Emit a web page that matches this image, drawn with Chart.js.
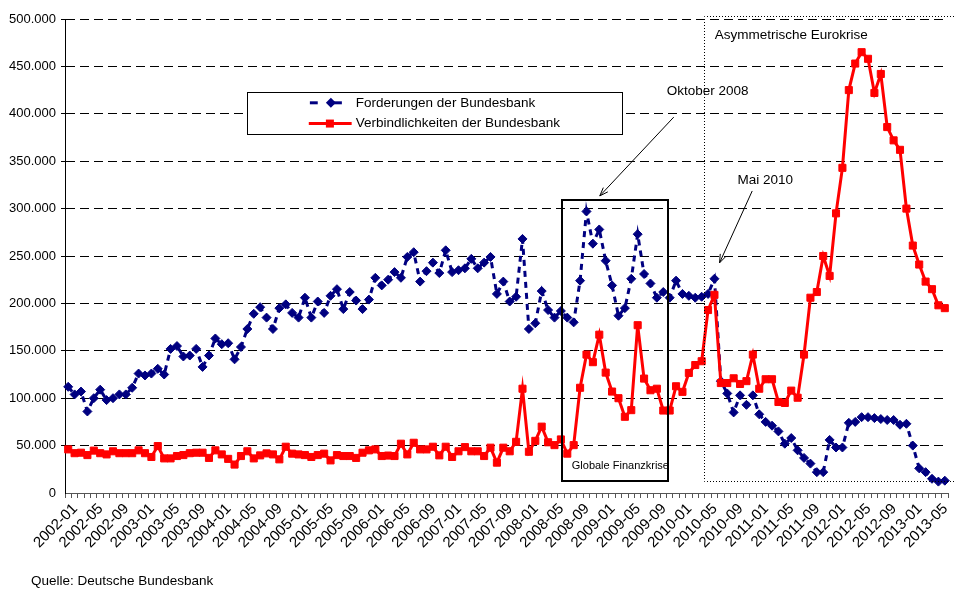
<!DOCTYPE html>
<html><head><meta charset="utf-8">
<script src="https://cdn.jsdelivr.net/npm/chart.js@4.4.0/dist/chart.umd.min.js"></script>
<style>html,body{margin:0;padding:0;background:#fff}canvas{display:block}</style>
</head><body>
<canvas id="c" width="954" height="589"></canvas>
<script>
// Monthly categories 2002-01 .. 2013-06
const START_YEAR = 2002, MONTH_COUNT = 138;
const categories = [];
for (let k = 0; k < MONTH_COUNT; k++) {
  const yr = START_YEAR + Math.floor(k / 12), mo = (k % 12) + 1;
  categories.push(yr + '-' + String(mo).padStart(2, '0'));
}
const tickLabels = ['2002-01','2002-05','2002-09','2003-01','2003-05','2003-09','2004-01','2004-05','2004-09',
  '2005-01','2005-05','2005-09','2006-01','2006-05','2006-09','2007-01','2007-05','2007-09','2008-01','2008-05',
  '2008-09','2009-01','2009-05','2009-09','2010-01','2010-05','2010-09','2011-01','2011-05','2011-09','2012-01',
  '2012-05','2012-09','2013-01','2013-05'];
const yTickValues = [0,50000,100000,150000,200000,250000,300000,350000,400000,450000,500000];

const forderungen = [
  112000,104000,107000,86000,100000,109000,98000,100000,104000,104000,111000,126000,
  124000,126000,131000,125000,152000,155000,144000,145000,152000,133000,145000,163000,
  157000,158000,141000,154000,173000,189000,196000,185000,173000,195000,199000,190000,
  185000,206000,185000,202000,190000,208000,215000,194000,212000,203000,194000,204000,
  227000,219000,225000,233000,227000,249000,254000,223000,234000,243000,232000,256000,
  233000,235000,237000,247000,237000,243000,249000,210000,223000,202000,207000,268000,
  173000,179000,213000,193000,185000,192000,185000,180000,224000,297000,263000,278000,
  245000,219000,187000,195000,226000,273000,231000,221000,206000,212000,206000,224000,
  210000,208000,206000,207000,210000,226000,118000,105000,85000,103000,93000,103000,
  83000,75000,71000,65000,52000,58000,45000,37000,31000,22000,22000,56000,
  48000,48000,74000,75000,80000,80000,79000,78000,77000,77000,72000,73000,
  50000,26000,22000,15000,12000,13000];
const verbindlichkeiten = [
  46000,42000,42500,40000,44700,42000,40700,44000,42000,42000,42000,45000,
  42000,38000,49500,36500,36500,39000,40000,42000,42500,42500,37000,45000,
  40700,36000,30000,39000,44000,36500,39700,41800,40700,35500,48800,41500,
  40700,40000,38000,40000,41500,34400,40000,39000,39000,37000,42500,45000,
  46000,39000,39500,39000,52000,40700,53000,46000,46000,48800,39700,48800,
  38000,44000,48400,44000,44000,39000,47800,32000,47800,44000,54000,110000,
  43500,55000,70000,53500,50500,56500,41500,50500,111000,146000,138000,167000,
  127000,107000,100000,80400,87400,177000,120700,108400,110000,87000,87000,112600,
  106700,126600,135000,139000,193000,209000,116000,116000,121000,115000,118000,146000,
  110000,120000,120000,96000,95000,108000,100500,146000,206000,212000,250000,229000,
  295000,343000,425000,453000,465000,458000,422000,442000,386000,372000,362000,300000,
  261000,241000,223000,215000,198000,195000];

const seriesNames = ['Forderungen der Bundesbank', 'Verbindlichkeiten der Bundesbank'];
const NAVY = '#000080', RED = '#FF0000';
const FONT = '"Liberation Sans", Arial, sans-serif';

function fmt(v) {
  return String(Math.round(v)).replace(/\B(?=(\d{3})+(?!\d))/g, '.');
}

const annot = {
  id: 'annot',
  afterDatasetsDraw(chart) {
    const { ctx, scales: { x, y } } = chart;
    const X = v => x.getPixelForValue(v), Y = v => y.getPixelForValue(v);
    ctx.save();
    // Globale Finanzkrise box
    ctx.setLineDash([]);
    ctx.strokeStyle = '#000'; ctx.lineWidth = 2;
    const bx1 = Math.round(X(77.1)), bx2 = Math.round(X(93.7)), by1 = Math.round(Y(309000)), by2 = Math.round(Y(12300));
    ctx.strokeRect(bx1, by1, bx2 - bx1, by2 - by1);
    // Asymmetrische Eurokrise dotted box
    ctx.lineWidth = 1; ctx.setLineDash([1, 2]);
    const ex = Math.round(X(99.3)) + 0.5, ey1 = Math.round(Y(503000)) + 0.5, ey2 = Math.round(Y(12300)) + 0.5;
    ctx.beginPath();
    ctx.moveTo(chart.width, ey1); ctx.lineTo(ex, ey1); ctx.lineTo(ex, ey2); ctx.lineTo(chart.width, ey2);
    ctx.stroke();
    ctx.setLineDash([]);
    // arrows
    function arrow(i1, v1, i2, v2) {
      const x1 = X(i1), y1 = Y(v1), x2 = X(i2), y2 = Y(v2);
      ctx.strokeStyle = '#000'; ctx.lineWidth = 1;
      ctx.beginPath(); ctx.moveTo(x1, y1); ctx.lineTo(x2, y2); ctx.stroke();
      const a = Math.atan2(y2 - y1, x2 - x1), L = 9, w = 0.35;
      ctx.beginPath();
      ctx.moveTo(x2 - L * Math.cos(a - w), y2 - L * Math.sin(a - w));
      ctx.lineTo(x2, y2);
      ctx.lineTo(x2 - L * Math.cos(a + w), y2 - L * Math.sin(a + w));
      ctx.stroke();
    }
    arrow(94.64, 396500, 83.08, 313400);
    arrow(106.9, 318600, 101.8, 242800);
    // texts
    ctx.fillStyle = '#000'; ctx.textBaseline = 'middle'; ctx.textAlign = 'left';
    ctx.font = '13.5px ' + FONT;
    ctx.fillText('Oktober 2008', X(93.55), Y(423400));
    ctx.fillText('Asymmetrische Eurokrise', X(101.05), Y(482800));
    ctx.fillText('Mai 2010', X(104.6), Y(330200));
    ctx.font = '11px ' + FONT;
    ctx.fillText('Globale Finanzkrise', X(78.7), Y(28400));
    // legend box
    const lx1 = Math.round(X(27.9)) + 0.5, lx2 = Math.round(X(86.5)) + 0.5;
    const ly1 = Math.round(Y(422800)) + 0.5, ly2 = Math.round(Y(378600)) + 0.5;
    ctx.fillStyle = '#fff'; ctx.fillRect(lx1, ly1, lx2 - lx1, ly2 - ly1);
    ctx.strokeStyle = '#000'; ctx.lineWidth = 1; ctx.strokeRect(lx1, ly1, lx2 - lx1, ly2 - ly1);
    const r1 = Y(411600), r2 = Y(389700);
    // entry 1: dashed navy + diamond
    ctx.strokeStyle = NAVY; ctx.lineWidth = 3;
    ctx.beginPath(); ctx.moveTo(X(37.77), r1); ctx.lineTo(X(39.0), r1); ctx.stroke();
    ctx.beginPath(); ctx.moveTo(X(41.05), r1); ctx.lineTo(X(42.77), r1); ctx.stroke();
    const dc = X(41.05);
    ctx.fillStyle = NAVY; ctx.beginPath();
    ctx.moveTo(dc - 5, r1); ctx.lineTo(dc, r1 - 5); ctx.lineTo(dc + 5, r1); ctx.lineTo(dc, r1 + 5); ctx.closePath(); ctx.fill();
    // entry 2: red line + square
    ctx.strokeStyle = RED; ctx.lineWidth = 3;
    ctx.beginPath(); ctx.moveTo(X(37.6), r2); ctx.lineTo(X(44.3), r2); ctx.stroke();
    ctx.fillStyle = RED; ctx.fillRect(X(40.9) - 4, r2 - 4, 8, 8);
    ctx.fillStyle = '#000'; ctx.font = '13.5px ' + FONT;
    ctx.fillText(seriesNames[0], X(44.95), r1);
    ctx.fillText(seriesNames[1], X(44.95), r2);
    // source
    ctx.fillText('Quelle: Deutsche Bundesbank', 31, 581);
    ctx.restore();
  }
};

new Chart(document.getElementById('c'), {
  type: 'line',
  data: {
    labels: categories,
    datasets: [
      {
        label: seriesNames[0], data: forderungen, order: 2,
        borderColor: NAVY, backgroundColor: NAVY, borderWidth: 3, borderDash: [6, 5],
        pointStyle: 'rectRot', pointRadius: 4.5, pointBorderWidth: 1,
        pointBackgroundColor: NAVY, pointBorderColor: NAVY, tension: 0
      },
      {
        label: seriesNames[1], data: verbindlichkeiten, order: 1,
        borderColor: RED, backgroundColor: RED, borderWidth: 3,
        pointStyle: 'rect', pointRadius: 5, pointBorderWidth: 1,
        pointBackgroundColor: RED, pointBorderColor: RED, tension: 0
      }
    ]
  },
  options: {
    responsive: false, animation: false, devicePixelRatio: 1,
    layout: { padding: { left: 0, right: 6, top: 19, bottom: 0 } },
    plugins: { legend: { display: false }, tooltip: { enabled: false } },
    scales: {
      x: {
        type: 'category', offset: true,
        grid: { offset: true, drawOnChartArea: false, tickLength: 5, color: '#555', lineWidth: 1 },
        border: { color: '#555', width: 1 },
        ticks: {
          autoSkip: false, maxRotation: 45, minRotation: 45, padding: 2, labelOffset: 7,
          color: '#000', font: { family: FONT, size: 15 },
          callback: function (v, i) { const l = categories[i]; return tickLabels.includes(l) ? l : ''; }
        },
        afterFit: s => { s.height = 96; s.paddingRight = 0; }
      },
      y: {
        min: 0, max: 500000,
        afterBuildTicks: s => { s.ticks = yTickValues.map(v => ({ value: v })); },
        grid: {
          color: c => (c.tick && c.tick.value === 0) ? 'rgba(0,0,0,0)' : '#000',
          lineWidth: 1, tickLength: 4
        },
        border: { color: '#000', width: 1, dash: [9, 5] },
        ticks: { color: '#000', padding: 5, font: { family: FONT, size: 13 }, callback: v => fmt(v) },
        afterFit: s => { s.width = 65; }
      }
    }
  },
  plugins: [annot]
});
</script>
</body></html>
